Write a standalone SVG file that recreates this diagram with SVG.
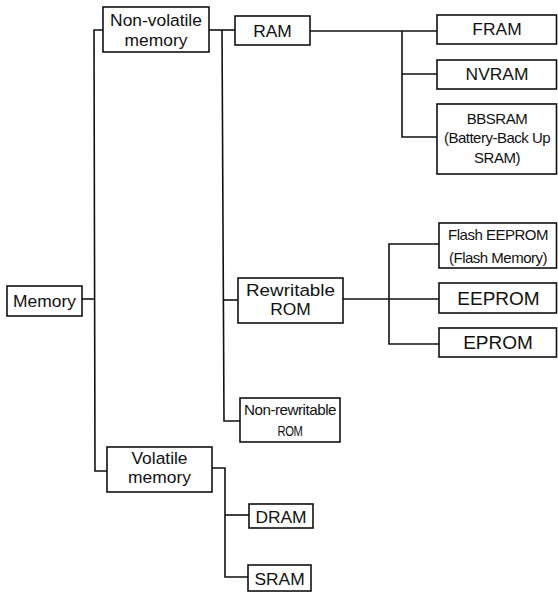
<svg xmlns="http://www.w3.org/2000/svg" width="558" height="594" viewBox="0 0 558 594">
<style>
rect{fill:#fff;stroke:#111;stroke-width:1.6}
.c line,.c polyline{fill:none;stroke:#111;stroke-width:1.6}
text{font-family:"Liberation Sans",Arial,sans-serif;fill:#111;text-anchor:middle}
.a{font-size:17.4px}
.b{font-size:15px;letter-spacing:-0.5px}
.d{font-size:19px}
</style>
<rect x="0" y="0" width="558" height="594" style="fill:#fff;stroke:none"/>
<g class="c" id="connectors">
<polyline points="82,299 94,299"/>
<polyline points="103,30 94,30 95,471 107,471"/>
<line x1="209" y1="30" x2="235" y2="30"/>
<polyline points="222,30 224,421 240,421"/>
<line x1="223" y1="300" x2="238" y2="300"/>
<line x1="310" y1="31" x2="437" y2="31"/>
<polyline points="402,31 402,137 437,137"/>
<line x1="402" y1="74" x2="437" y2="74"/>
<line x1="343" y1="299" x2="439" y2="299"/>
<polyline points="439,244 389,244 389,344 439,344"/>
<polyline points="212,468 225,468 225,577 248,577"/>
<line x1="225" y1="515" x2="249" y2="515"/>
</g>
<g id="memory"><rect x="7" y="286" width="75" height="30"/><text class="a" x="44.5" y="307">Memory</text></g>
<g id="nonvolatile"><rect x="103" y="7" width="106" height="45"/><text class="a" x="156" y="26">Non-volatile</text><text class="a" x="156" y="46">memory</text></g>
<g id="ram"><rect x="235" y="16" width="75" height="29"/><text class="a" x="272.5" y="37">RAM</text></g>
<g id="fram"><rect x="437" y="15" width="119.5" height="29"/><text class="a" x="497" y="35">FRAM</text></g>
<g id="nvram"><rect x="437" y="60" width="119.5" height="29"/><text class="a" x="497" y="80">NVRAM</text></g>
<g id="bbsram"><rect x="437" y="104" width="119.5" height="70"/><text class="b" x="497" y="124">BBSRAM</text><text class="b" x="497" y="143">(Battery-Back Up</text><text class="b" x="497" y="163">SRAM)</text></g>
<g id="rewritable"><rect x="238" y="278" width="105" height="45"/><text class="a" x="290.5" y="296" textLength="89" lengthAdjust="spacingAndGlyphs">Rewritable</text><text class="a" x="290.5" y="315">ROM</text></g>
<g id="flash"><rect x="439" y="223" width="117.5" height="45"/><text class="b" x="498" y="240">Flash EEPROM</text><text class="b" x="498" y="263">(Flash Memory)</text></g>
<g id="eeprom"><rect x="439" y="283" width="117.5" height="30"/><text class="d" x="498.5" y="305">EEPROM</text></g>
<g id="eprom"><rect x="439" y="328" width="117.5" height="29"/><text class="d" x="498" y="349">EPROM</text></g>
<g id="nonrewritable"><rect x="240" y="398" width="100" height="44"/><text class="b" x="290" y="415" textLength="92" lengthAdjust="spacingAndGlyphs">Non-rewritable</text><text class="b" x="290" y="436" textLength="25" lengthAdjust="spacingAndGlyphs">ROM</text></g>
<g id="volatile"><rect x="107" y="447" width="105" height="45"/><text class="a" x="159.5" y="464">Volatile</text><text class="a" x="159.5" y="483">memory</text></g>
<g id="dram"><rect x="249" y="504" width="64" height="24"/><text class="a" x="281" y="523">DRAM</text></g>
<g id="sram"><rect x="248" y="565" width="63" height="26"/><text class="a" x="279.5" y="585">SRAM</text></g>
</svg>
